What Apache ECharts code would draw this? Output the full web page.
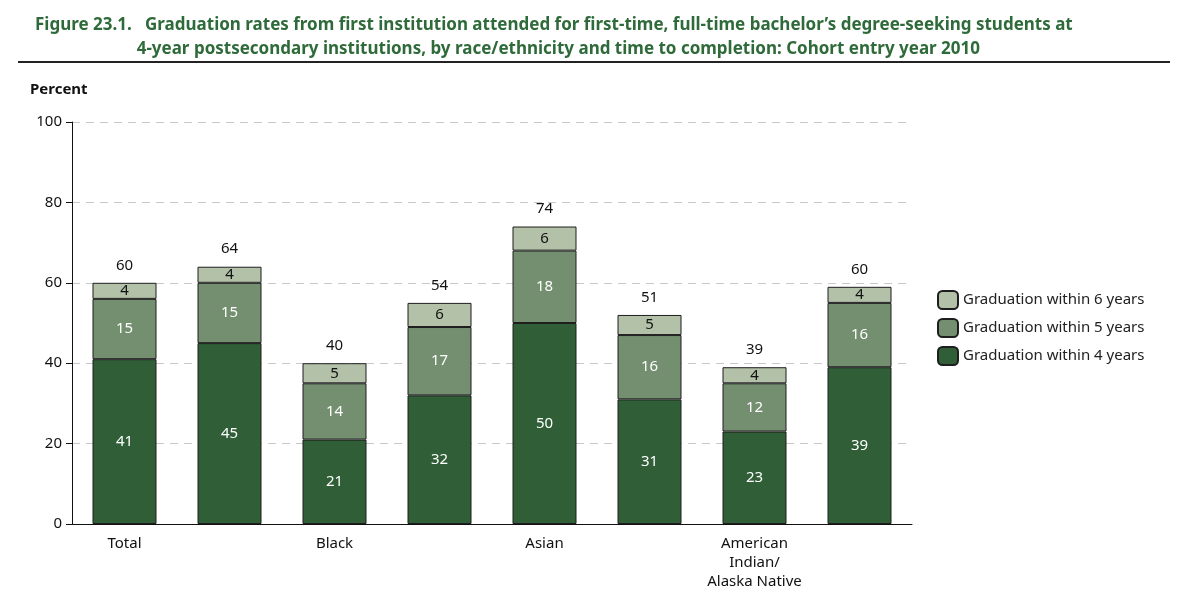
<!DOCTYPE html>
<html><head><meta charset="utf-8">
<script src="https://cdn.jsdelivr.net/npm/echarts@6/dist/echarts.min.js"></script>
<style>body{margin:0;background:#fff}#c{width:1200px;height:596px}</style>
</head><body><div id="c"></div>
<script>
var categories = ['Total', 'White', 'Black', 'Hispanic', 'Asian', 'Pacific\nIslander', 'American\nIndian/\nAlaska Native', 'Two or\nmore races'];
var within4 = [41, 45, 21, 32, 50, 31, 23, 39];
var within5 = [15, 15, 14, 17, 18, 16, 12, 16];
var within6 = [4, 4, 5, 6, 6, 5, 4, 4];
var totals = [60, 64, 40, 54, 74, 51, 39, 60];

var chart = echarts.init(document.getElementById('c'));
var font = 'Noto Sans';
function seg(name, data, color, textColor) {
  return {
    type: 'bar', name: name, stack: 'a', data: data, barWidth: 64,
    itemStyle: { color: color, borderColor: '#1e1e1e', borderWidth: 1 },
    label: { show: true, position: 'inside', color: textColor, fontSize: 15, fontFamily: font }
  };
}
chart.setOption({
  animation: false,
  title: {
    text: 'Figure 23.1.   Graduation rates from first institution attended for first-time, full-time bachelor\u2019s degree-seeking students at\n                       4-year postsecondary institutions, by race/ethnicity and time to completion: Cohort entry year 2010',
    left: 30, top: 8,
    textStyle: { color: '#2f6b3a', fontSize: 17, fontWeight: 'bold', fontFamily: font, lineHeight: 24 }
  },
  graphic: [
    { type: 'rect', shape: { x: 18, y: 61, width: 1152, height: 2 }, style: { fill: '#222' } },
    { type: 'text', left: 30, top: 82, style: { text: 'Percent', font: 'bold 15px Noto Sans', fill: '#111' } }
  ],
  legend: {
    orient: 'vertical', left: 932, top: 285, itemGap: 8, itemWidth: 20, itemHeight: 18,
    data: ['Graduation within 6 years', 'Graduation within 5 years', 'Graduation within 4 years'],
    textStyle: { fontSize: 15, color: '#222', fontFamily: font }
  },
  grid: { left: 72, right: 288, top: 122, bottom: 72 },
  xAxis: {
    type: 'category', data: categories,
    axisLine: { lineStyle: { color: '#111' } },
    axisTick: { show: false },
    axisLabel: { color: '#111', fontSize: 15, fontFamily: font, lineHeight: 19, margin: 10 }
  },
  yAxis: {
    type: 'value', min: 0, max: 100, interval: 20,
    axisLine: { show: true, lineStyle: { color: '#111' } },
    axisTick: { show: true, length: 6, lineStyle: { color: '#111' } },
    axisLabel: { color: '#111', fontSize: 15, fontFamily: font, margin: 10 },
    splitLine: { lineStyle: { color: '#c8c8c8', type: [8, 6] } }
  },
  series: [
    seg('Graduation within 4 years', within4, '#2f5e37', '#fff'),
    seg('Graduation within 5 years', within5, '#748f70', '#fff'),
    seg('Graduation within 6 years', within6, '#b2c1a7', '#111'),
    {
      type: 'bar', name: 'total', stack: 'a', barWidth: 64,
      data: totals.map(function () { return 0; }),
      itemStyle: { color: 'transparent', borderWidth: 0 },
      label: { show: true, position: 'top', distance: 10, color: '#111', fontSize: 15, fontFamily: font,
        formatter: function (p) { return totals[p.dataIndex]; } }
    }
  ]
});
</script></body></html>
